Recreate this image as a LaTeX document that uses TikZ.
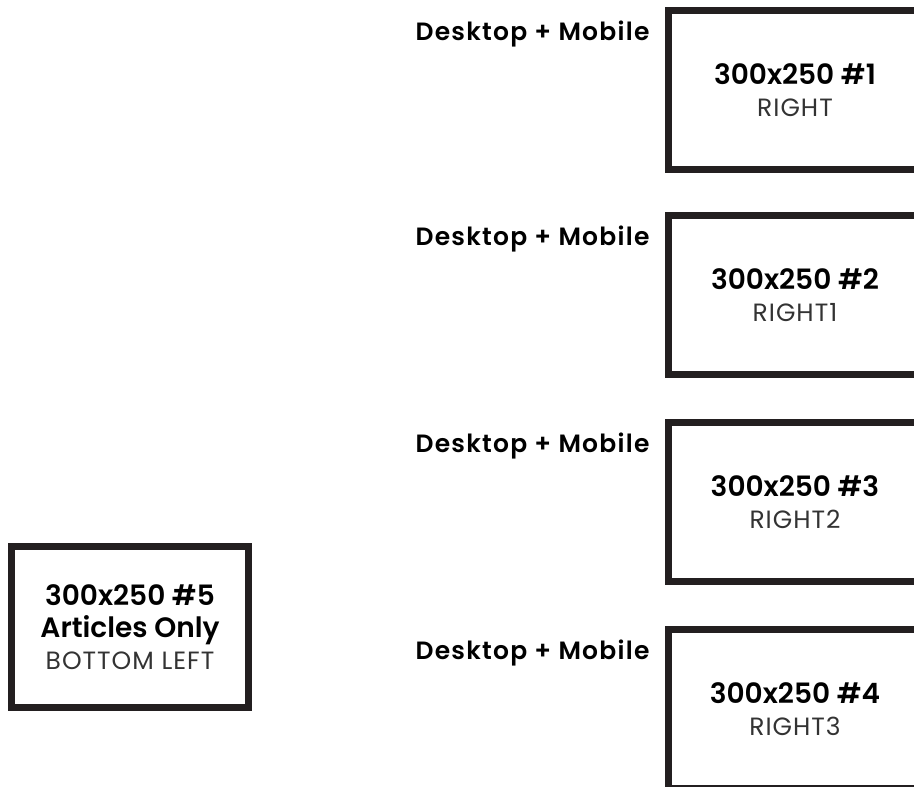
\documentclass[tikz,border=0pt]{standalone}
\usepackage{fontspec}
\setmainfont{Poppins}[BoldFont={Poppins SemiBold}]
\usepackage{tikz}
\usetikzlibrary{positioning}
\definecolor{ink}{HTML}{231F20}
\definecolor{mute}{HTML}{333333}
\tikzset{
  adbox/.style={draw=ink,line width=7pt,minimum width=253pt,minimum height=159pt,inner sep=0pt},
  lbox/.style={adbox,minimum width=237pt,minimum height=161pt},
  adtxt/.style={font=\fontsize{28}{32}\selectfont,align=center,text=black},
  lab/.style={font=\fontsize{25}{30}\selectfont\bfseries\addfontfeatures{LetterSpace=5},anchor=base east},
}
\newcommand{\adnm}[1]{{\fontsize{25}{32}\selectfont\addfontfeatures{LetterSpace=4}\color{mute}#1}}

\begin{document}
\begin{tikzpicture}[x=1pt,y=-1pt]
\clip (0,0) rectangle (914,787);
\node[adbox] (r1) at (795,90) {};
\node[adbox] (r2) at (795,295) {};
\node[adbox] (r3) at (795,502) {};
\node[adbox] (r4) at (795,709) {};
\node[lbox] (bl) at (130,627) {};
\node[adtxt] (t1) at (r1) {\textbf{300x250 \#1}\\\adnm{RIGHT}};
\node[adtxt] (t2) at (r2) {\textbf{300x250 \#2}\\\adnm{RIGHT1}};
\node[adtxt] (t3) at (r3) {\textbf{300x250 \#3}\\\adnm{RIGHT2}};
\node[adtxt] (t4) at (r4) {\textbf{300x250 \#4}\\\adnm{RIGHT3}};
\node[adtxt] (t5) at (bl) {\textbf{300x250 \#5}\\\textbf{Articles Only}\\\adnm{BOTTOM LEFT}};
\node[lab] (l1) at ([xshift=-12pt,yshift=-33pt]r1.north west) {Desktop + Mobile};
\node[lab] (l2) at ([xshift=-12pt,yshift=-33pt]r2.north west) {Desktop + Mobile};
\node[lab] (l3) at ([xshift=-12pt,yshift=-33pt]r3.north west) {Desktop + Mobile};
\node[lab] (l4) at ([xshift=-12pt,yshift=-33pt]r4.north west) {Desktop + Mobile};
\end{tikzpicture}
\end{document}
